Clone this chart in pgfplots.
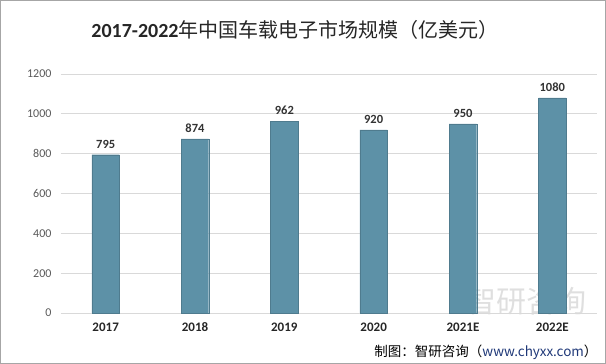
\documentclass[border=0pt]{standalone}
\usepackage{fontspec}
\setmainfont{Carlito}
\newfontfamily\cjk{Noto Sans CJK SC}
\usepackage{pgfplots}
\pgfplotsset{compat=1.18}
\definecolor{barc}{RGB}{93,145,167}
\definecolor{gridc}{RGB}{217,217,217}
\definecolor{tickc}{RGB}{89,89,89}
\begin{document}
\begin{tikzpicture}[x=1pt,y=1pt]
\path[draw=gray!70,line width=1pt] (0.5,0.5) rectangle (605.5,363.5);
\node[font=\fontsize{20}{22}\selectfont, text=black!85] at (295,334) {\textbf{2017-2022}{\cjk 年中国车载电子市场规模（亿美元）}};
\node[text=gray!35, font=\cjk\fontsize{30}{32}\selectfont, anchor=west, opacity=0.7] at (463,63) {智研咨询};
\begin{axis}[
  at={(61pt,51pt)}, anchor=south west,
  scale only axis, width=536pt, height=239pt,
  xmin=-0.5, xmax=5.5, ymin=0, ymax=1200,
  xtick=data, xticklabels={2017,2018,2019,2020,2021E,2022E},
  ytick={0,200,...,1200},
  ymajorgrids, grid style={gridc, line width=0.8pt},
  axis x line*=bottom, axis y line*=left,
  x axis line style={gridc, line width=0.8pt},
  y axis line style={draw=none},
  major tick length=0pt,
  tick style={draw=none},
  ticklabel style={/pgf/number format/assume math mode=true},
  yticklabel style={font=\fontsize{12}{14}\selectfont, text=tickc, xshift=-6pt},
  xticklabel style={font=\bfseries\fontsize{13}{15}\selectfont, text=black!85, yshift=-6pt},
  /pgf/number format/1000 sep={},
  ybar, bar width=27.5pt,
  nodes near coords,
  nodes near coords style={font=\bfseries\fontsize{12.5}{14}\selectfont, text=black!80, yshift=3pt, /pgf/number format/assume math mode=true},
  clip=false,
]
\addplot[fill=barc, draw=barc!85!black, line width=0.3pt] coordinates {(0,795) (1,874) (2,962) (3,920) (4,950) (5,1080)};
\end{axis}
\node[anchor=east, font=\cjk\fontsize{13.5}{15}\selectfont] at (601,12) {制图：智研咨询（\textcolor[RGB]{31,56,120}{www.chyxx.com}）};
\end{tikzpicture}
\end{document}
